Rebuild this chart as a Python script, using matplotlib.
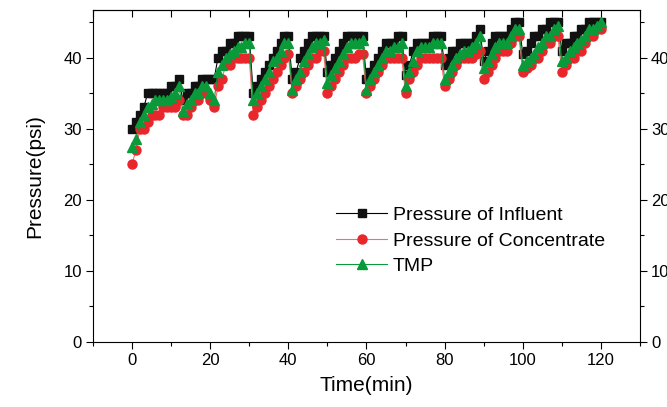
import numpy as np
import matplotlib
matplotlib.use("Agg")
import matplotlib.pyplot as plt
from matplotlib.ticker import MultipleLocator

plt.rcParams['font.family'] = ['Liberation Sans', 'DejaVu Sans']

# time in minutes, one reading per minute
time_min = list(range(0, 121))

influent = [
    30, 31, 32, 33, 35, 35, 35, 35, 35, 35,
    36, 36, 37, 34, 35, 35, 36, 36, 37, 37,
    37, 37, 40, 41, 41, 42, 42, 43, 43, 43,
    43, 35, 36, 37, 38, 39, 40, 41, 42, 43,
    43, 37, 38, 40, 41, 42, 43, 43, 43, 43,
    38, 39, 40, 41, 42, 43, 43, 43, 43, 43,
    37, 38, 39, 40, 41, 42, 42, 42, 43, 43,
    37.5, 39, 41, 42, 42, 42, 42, 43, 43, 43,
    39, 40, 41, 41, 42, 42, 42, 42, 43, 44,
    39.5, 41, 42, 43, 43, 43, 43, 44, 45, 45,
    40.5, 41, 42, 43, 43, 44, 44, 45, 45, 45,
    41, 42, 42, 43, 43, 44, 44, 45, 45, 45, 45,
]

concentrate = [
    25, 27, 30, 30, 31, 32, 32, 32, 33, 33,
    33, 33, 34, 32, 32, 33, 34, 34, 35, 35,
    34, 33, 36, 37, 39, 39, 40, 40, 40, 40,
    40, 32, 33, 34, 35, 36, 37, 38, 39, 40,
    40.5, 35, 36, 37, 38, 39, 40, 40, 41, 41,
    35, 36, 37, 38, 39, 40, 40, 40, 40.5, 40.5,
    35, 36, 37, 38, 39, 40, 40, 40, 40, 40,
    35, 37, 38, 39, 40, 40, 40, 40, 40, 40,
    36, 37, 38, 39, 40, 40, 40, 40, 40.5, 41,
    37, 38, 39, 40, 41, 41, 41, 42, 43, 43,
    38, 38.5, 39, 40, 40, 41, 42, 42, 43, 43,
    38, 39, 40, 40, 41, 41, 42, 43, 43, 44, 44,
]

tmp = [
    27.5, 28.5, 31, 32, 33, 33.5, 34, 34, 34, 34,
    34.5, 35, 36, 32.5, 33.5, 34, 35, 35, 36, 36,
    35, 34, 38, 39, 40, 40.5, 41, 41.5, 41.5, 42,
    42, 34, 35, 36, 37, 38, 39.5, 40, 41, 42,
    42, 35.5, 37, 38, 39.5, 40.5, 41.5, 42, 42, 42.5,
    36.5, 37.5, 38.5, 39.5, 40.5, 41.5, 42, 42, 42, 42.5,
    35.5, 37, 38, 39, 40, 41, 41, 41.5, 41.5, 42,
    36, 38, 39.5, 41, 41.5, 41.5, 41.5, 42, 42, 42,
    37, 38, 39, 40, 40.5, 41, 41, 41.5, 42, 43,
    38.5, 39.5, 40.5, 41.5, 42, 42, 42, 43, 44, 44,
    39, 39.5, 40, 40.5, 41.5, 42, 43, 43, 44, 44.5,
    39.5, 40, 41, 41.5, 42, 42.5, 43, 44, 44, 44.5, 45,
]

fig = plt.figure(figsize=(6.67, 4.07), dpi=100)
ax = fig.add_axes([0.1394, 0.1597, 0.8201, 0.8157])

ax.plot(time_min, influent, color='black', lw=0.8, marker='s', ms=5.5,
        mfc='#111111', mec='#111111', label='Pressure of Influent')
ax.plot(time_min, concentrate, color='#f07070', lw=0.8, marker='o', ms=6.5,
        mfc='#e8262b', mec='#e8262b', label='Pressure of Concentrate')
ax.plot(time_min, tmp, color='#0a9a3a', lw=0.8, marker='^', ms=6.5,
        mfc='#0a9a3a', mec='#0a9a3a', label='TMP')

ax.set_xlim(-10, 130)
ax.set_ylim(0, 46.7)
ax.xaxis.set_major_locator(MultipleLocator(20))
ax.xaxis.set_minor_locator(MultipleLocator(10))
ax.yaxis.set_major_locator(MultipleLocator(10))
ax.yaxis.set_minor_locator(MultipleLocator(5))

ax.tick_params(axis='both', which='both', direction='out', labelsize=12,
               right=True, labelright=True, top=False)
ax.tick_params(which='major', length=5, width=0.8, pad=3)
ax.tick_params(which='minor', length=3, width=0.8)

# top axis: ticks inward, no labels
top = ax.secondary_xaxis('top')
top.xaxis.set_major_locator(MultipleLocator(10))
top.tick_params(direction='in', length=5, width=0.8, labeltop=False)

ax.set_xlabel('Time(min)', fontsize=15, labelpad=6)
ax.set_ylabel('Pressure(psi)', fontsize=15, labelpad=14)

ax.legend(loc='center left', bbox_to_anchor=(0.42, 0.305), frameon=False,
          fontsize=14, handlelength=2.6, handletextpad=0.3, labelspacing=0.4,
          borderpad=0.2)

fig.savefig('out.png', dpi=100)
